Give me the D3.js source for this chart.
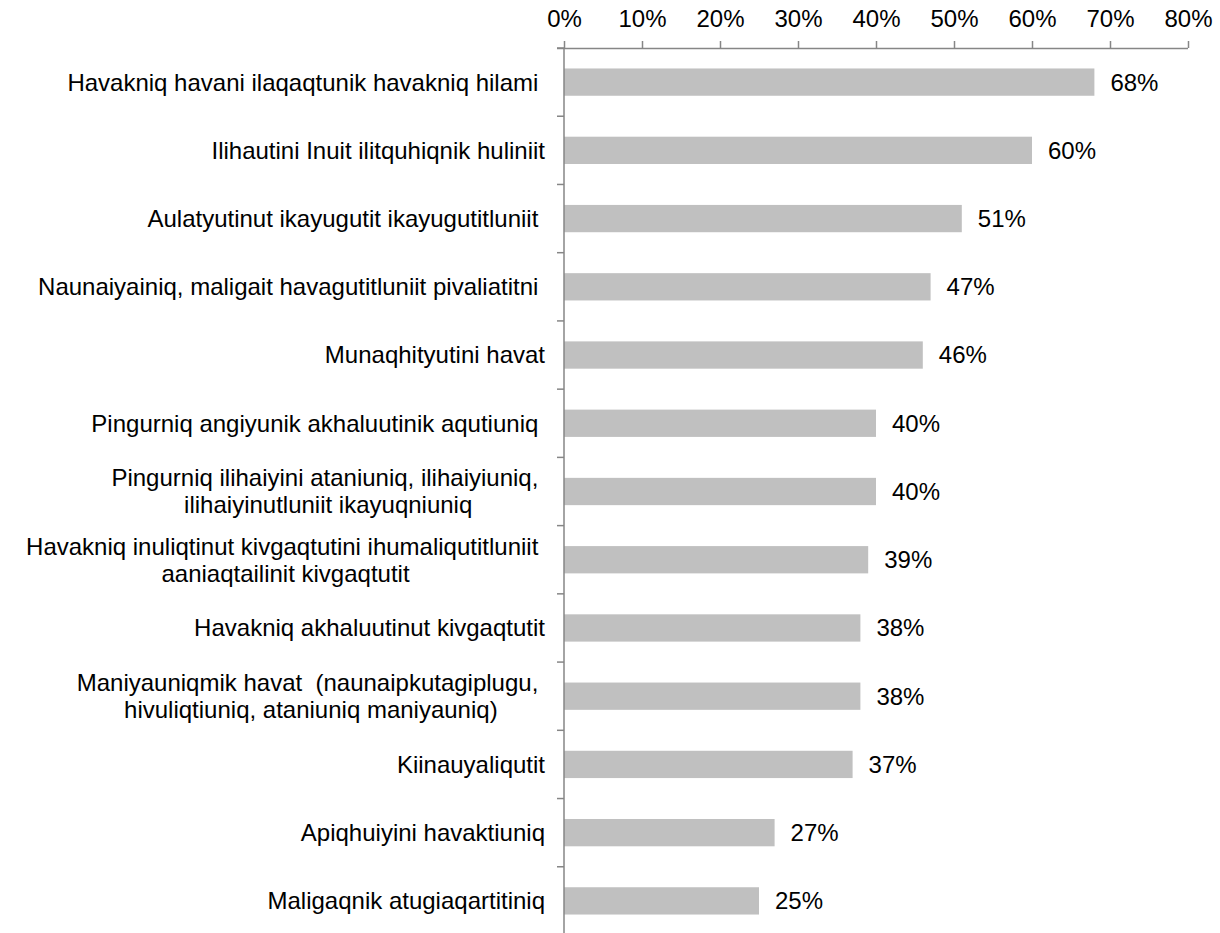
<!DOCTYPE html>
<html>
<head>
<meta charset="utf-8">
<script src="https://cdn.jsdelivr.net/npm/d3@7"></script>
<style>
  body { margin: 0; background: #fff; }
  text { font-family: "Liberation Sans", Arial, sans-serif; font-size: 24px; fill: #000; white-space: pre; }
</style>
</head>
<body>
<div id="chart-area"></div>
<script>
// categories (lines of each label), top to bottom
var categories = [
    ["Havakniq havani ilaqaqtunik havakniq hilami "],
    ["Ilihautini Inuit ilitquhiqnik huliniit"],
    ["Aulatyutinut ikayugutit ikayugutitluniit "],
    ["Naunaiyainiq, maligait havagutitluniit pivaliatitni "],
    ["Munaqhityutini havat"],
    ["Pingurniq angiyunik akhaluutinik aqutiuniq "],
    ["Pingurniq ilihaiyini ataniuniq, ilihaiyiuniq, ", "ilihaiyinutluniit ikayuqniuniq"],
    ["Havakniq inuliqtinut kivgaqtutini ihumaliqutitluniit ", "aaniaqtailinit kivgaqtutit"],
    ["Havakniq akhaluutinut kivgaqtutit"],
    ["Maniyauniqmik havat  (naunaipkutagiplugu, ", "hivuliqtiuniq, ataniuniq maniyauniq)"],
    ["Kiinauyaliqutit"],
    ["Apiqhuiyini havaktiuniq"],
    ["Maligaqnik atugiaqartitiniq"]
];
var values = [68, 60, 51, 47, 46, 40, 40, 39, 38, 38, 37, 27, 25];
var xTicks = [0, 10, 20, 30, 40, 50, 60, 70, 80];

var svg = d3.select("#chart-area")
    .append("svg")
    .attr("width", 1220)
    .attr("height", 933);

var x = d3.scaleLinear().domain([0, 80]).range([564, 1188]);
var y = d3.scaleBand().domain(d3.range(categories.length)).range([48, 935]).paddingInner(0.6).paddingOuter(0.3);

// bars
svg.selectAll("rect.bar")
    .data(values)
    .enter()
    .append("rect")
    .attr("class", "bar")
    .attr("x", x(0))
    .attr("y", (d, i) => y(i))
    .attr("width", d => x(d) - x(0))
    .attr("height", y.bandwidth())
    .attr("fill", "#c0c0c0");

// top axis
var xAxis = svg.append("g")
    .attr("transform", "translate(0,48)")
    .call(d3.axisTop(x).tickValues(xTicks).tickSize(7).tickPadding(14).tickFormat(d => d + "%"));
xAxis.select(".domain").attr("stroke", "#868686").attr("stroke-width", 1.5).attr("d", "M557,0.5H1188");
xAxis.selectAll(".tick line").attr("stroke", "#868686").attr("stroke-width", 1.5);
xAxis.selectAll(".tick text").style("font-size", "24px").attr("fill", "#000");

// left axis line and ticks at band boundaries
var step = y.step();
var boundaries = d3.range(categories.length + 1).map(i => 48 + i * step);
svg.append("line")
    .attr("x1", x(0)).attr("x2", x(0))
    .attr("y1", 48).attr("y2", 933)
    .attr("stroke", "#868686").attr("stroke-width", 1.5);
svg.selectAll("line.ytick")
    .data(boundaries)
    .enter()
    .append("line")
    .attr("class", "ytick")
    .attr("x1", x(0) - 7).attr("x2", x(0))
    .attr("y1", d => d).attr("y2", d => d)
    .attr("stroke", "#868686").attr("stroke-width", 1.5);

// category labels (lines centred on each other, block right-aligned)
var lineH = 27;
categories.forEach(function (lines, i) {
    var cy = y(i) + y.bandwidth() / 2;
    var g = svg.append("g");
    var texts = lines.map(function (ln, k) {
        return g.append("text")
            .attr("y", cy + (k - (lines.length - 1) / 2) * lineH)
            .attr("dy", "0.35em")
            .text(ln);
    });
    var w = d3.max(texts, t => t.node().getComputedTextLength());
    texts.forEach(function (t) {
        t.attr("x", 545 - w / 2).attr("text-anchor", "middle");
    });
});

// value labels
svg.selectAll("text.val")
    .data(values)
    .enter()
    .append("text")
    .attr("class", "val")
    .attr("x", d => x(d) + 16)
    .attr("y", (d, i) => y(i) + y.bandwidth() / 2)
    .attr("dy", "0.35em")
    .text(d => d + "%");
</script>
</body>
</html>
